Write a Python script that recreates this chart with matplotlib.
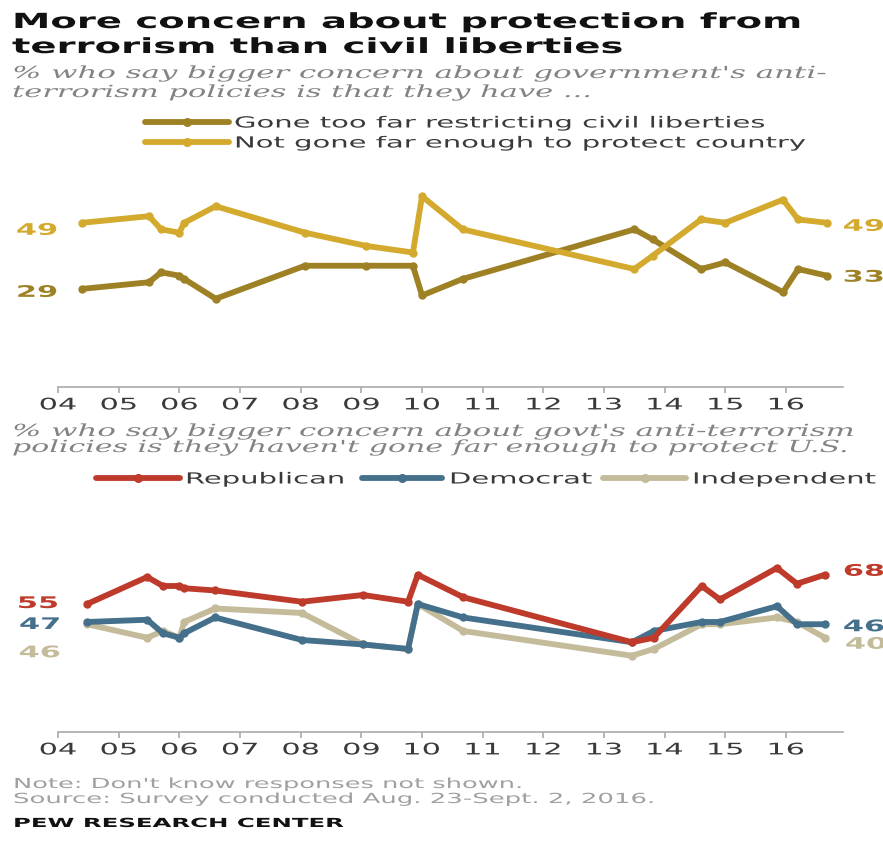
import matplotlib
matplotlib.use("Agg")
import matplotlib.pyplot as plt
from matplotlib.lines import Line2D
from matplotlib.patheffects import AbstractPathEffect
from matplotlib.transforms import Affine2D

# ---------------- data ----------------
years_top = [2004.4, 2005.5, 2005.7, 2006.0, 2006.08, 2006.6, 2008.07, 2009.08, 2009.85,
             2010.0, 2010.67, 2013.5, 2013.8, 2014.6, 2015.0, 2015.95, 2016.2, 2016.67]
too_far = [29, 31, 34, 33, 32, 26, 36, 36, 36, 27, 32, 47, 44, 35, 37, 28, 35, 33]
not_far = [49, 51, 47, 46, 49, 54, 46, 42, 40, 57, 47, 35, 39, 50, 49, 56, 50, 49]

years_bot = [2004.48, 2005.47, 2005.73, 2006.0, 2006.08, 2006.59, 2008.02, 2009.03, 2009.77,
             2009.93, 2010.68, 2013.46, 2013.82, 2014.61, 2014.91, 2015.85, 2016.18, 2016.64]
republican = [55, 67, 63, 63, 62, 61, 56, 59, 56, 68, 58, 38, 40, 63, 57, 71, 64, 68]
democrat = [47, 48, 42, 40, 42, 49, 39, 37, 35, 55, 49, 38, 43, 47, 47, 54, 46, 46]
independent = [46, 40, 43, 40, 47, 53, 51, 37, 35, 55, 43, 32, 35, 46, 46, 49, 47, 40]

tick_years = list(range(2004, 2017))
tick_labels = ["04", "05", "06", "07", "08", "09", "10", "11", "12", "13", "14", "15", "16"]

top_series = ["Gone too far restricting civil liberties", "Not gone far enough to protect country"]
bot_series = ["Republican", "Democrat", "Independent"]

# ---------------- style ----------------
C_FAR = "#9e8125"
C_NOT = "#d4aa2e"
C_REP = "#be3a2a"
C_DEM = "#45708c"
C_IND = "#c4bb9b"
GREY_TXT = "#838383"
DARK_TXT = "#3a3a3a"
SX = 1.9
LW = 4.2

W, H = 883, 846
fig = plt.figure(figsize=(W / 100, H / 100), dpi=100)
fig.patch.set_facecolor("white")


def fx(px):
    return px / W


def fy(py):
    return 1 - py / H


class HStretch(AbstractPathEffect):
    """Draw text glyphs stretched horizontally (source graphic is wide)."""

    def __init__(self, sx, anchor="left"):
        super().__init__()
        self.sx = sx
        self.anchor = anchor

    def draw_path(self, renderer, gc, tpath, affine, rgbFace=None):
        ext = tpath.get_extents()
        if self.anchor == "center":
            a = (ext.x0 + ext.x1) / 2
        elif self.anchor == "right":
            a = ext.x1
        else:
            a = 0.0
        t = Affine2D().translate(-a, 0).scale(self.sx, 1).translate(a, 0)
        renderer.draw_path(gc, tpath, t + affine, rgbFace)


def stext(x, y, s, sx=SX, ha="left", va="baseline", **kw):
    t = fig.text(fx(x), fy(y), s, ha=ha, va=va, **kw)
    t.set_path_effects([HStretch(sx, ha)])
    return t


# ---------------- titles ----------------
stext(12, 28, "More concern about protection from", sx=1.85, fontsize=15, fontweight="bold", color="#111111")
stext(12, 53, "terrorism than civil liberties", sx=1.85, fontsize=15, fontweight="bold", color="#111111")
stext(12, 78, "% who say bigger concern about government's anti-", sx=1.85, fontsize=12,
      family="DejaVu Serif", style="italic", color=GREY_TXT)
stext(12, 97, "terrorism policies is that they have ...", sx=1.83, fontsize=12,
      family="DejaVu Serif", style="italic", color=GREY_TXT)


def legend_entry(x0, x1, y, color, label, tx):
    xm = (x0 + x1) / 2
    ln = Line2D([fx(x0), fx(xm), fx(x1)], [fy(y)] * 3, transform=fig.transFigure,
                color=color, lw=LW, marker="o", ms=5.5, markevery=[1],
                solid_capstyle="round")
    fig.add_artist(ln)
    stext(tx, y + 5.5, label, fontsize=11, color=DARK_TXT)


legend_entry(145, 229, 122, C_FAR, top_series[0], 234)
legend_entry(145, 229, 142, C_NOT, top_series[1], 234)


def style_axis(ax, ylim):
    ax.set_xlim(2004, 2004 + (843 - 58) / 60.67)
    ax.set_ylim(*ylim)
    for s in ["top", "left", "right"]:
        ax.spines[s].set_visible(False)
    ax.spines["bottom"].set_color("#aaaaaa")
    ax.spines["bottom"].set_linewidth(1.2)
    ax.set_yticks([])
    ax.set_xticks(tick_years, tick_labels)
    ax.tick_params(axis="x", length=4, width=1.2, color="#aaaaaa", pad=3.5,
                   labelsize=11.5, labelcolor=DARK_TXT)
    for lbl in ax.get_xticklabels():
        lbl.set_path_effects([HStretch(SX, "center")])
    ax.patch.set_alpha(0)


def end_label(ax, x, y, txt, color, dx, dy, ha):
    t = ax.annotate(txt, (x, y), xytext=(dx, dy), textcoords="offset pixels",
                    ha=ha, va="center_baseline", fontsize=11.5, fontweight="bold",
                    color=color, annotation_clip=False)
    t.set_path_effects([HStretch(SX, ha)])


# ---------------- top chart ----------------
ax1 = fig.add_axes([fx(58), fy(387), fx(843) - fx(58), (387 - 160) / H])
style_axis(ax1, (-0.7, 68))
for vals, col in [(too_far, C_FAR), (not_far, C_NOT)]:
    ax1.plot(years_top, vals, color=col, lw=LW, marker="o", ms=5,
             solid_joinstyle="round", solid_capstyle="round", clip_on=False)
end_label(ax1, years_top[0], not_far[0], str(not_far[0]), C_NOT, -25, -6, "right")
end_label(ax1, years_top[0], too_far[0], str(too_far[0]), C_FAR, -25, -2, "right")
end_label(ax1, years_top[-1], not_far[-1], str(not_far[-1]), C_NOT, 16, -2, "left")
end_label(ax1, years_top[-1], too_far[-1], str(too_far[-1]), C_FAR, 16, 0, "left")

# ---------------- second block ----------------
stext(12, 436, "% who say bigger concern about govt's anti-terrorism", sx=1.85, fontsize=12,
      family="DejaVu Serif", style="italic", color=GREY_TXT)
stext(12, 452, "policies is they haven't gone far enough to protect U.S.", sx=1.8, fontsize=12,
      family="DejaVu Serif", style="italic", color=GREY_TXT)

legend_entry(96, 180, 478, C_REP, bot_series[0], 185)
legend_entry(362, 442, 478, C_DEM, bot_series[1], 449)
legend_entry(603, 686, 478, C_IND, bot_series[2], 692)

ax2 = fig.add_axes([fx(58), fy(732), fx(843) - fx(58), (732 - 550) / H])
style_axis(ax2, (-1.9, 79))
for vals, col in [(independent, C_IND), (democrat, C_DEM), (republican, C_REP)]:
    ax2.plot(years_bot, vals, color=col, lw=LW, marker="o", ms=5,
             solid_joinstyle="round", solid_capstyle="round", clip_on=False)
end_label(ax2, years_bot[0], republican[0], str(republican[0]), C_REP, -29, 2, "right")
end_label(ax2, years_bot[0], democrat[0], str(democrat[0]), C_DEM, -27, -1, "right")
end_label(ax2, years_bot[0], independent[0], str(independent[0]), C_IND, -27, -27, "right")
end_label(ax2, years_bot[-1], republican[-1], str(republican[-1]), C_REP, 18, 5, "left")
end_label(ax2, years_bot[-1], democrat[-1], str(democrat[-1]), C_DEM, 18, -1, "left")
end_label(ax2, years_bot[-1], independent[-1], str(independent[-1]), C_IND, 20, -5, "left")

# ---------------- footer ----------------
stext(13, 788, "Note: Don't know responses not shown.", sx=1.85, fontsize=10, color="#a0a0a0")
stext(13, 803, "Source: Survey conducted Aug. 23-Sept. 2, 2016.", sx=1.87, fontsize=10, color="#a0a0a0")
stext(13, 827, "PEW RESEARCH CENTER", sx=1.95, fontsize=9, fontweight="bold", color="#111111")

fig.savefig("out.png", dpi=100, facecolor="white")
